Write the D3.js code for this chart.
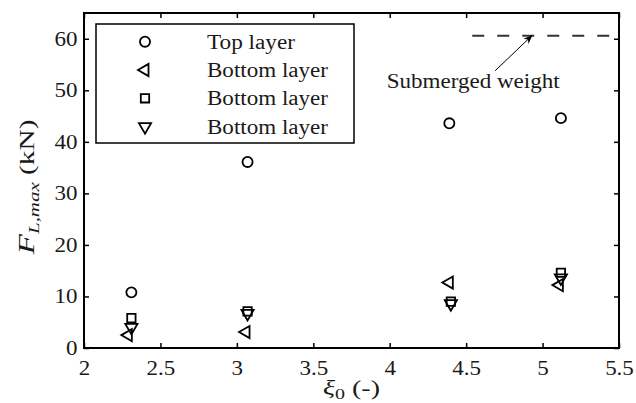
<!DOCTYPE html>
<html>
<head>
<meta charset="utf-8">
<script src="https://cdn.jsdelivr.net/npm/d3@7/dist/d3.min.js"></script>
<style>
  body { margin: 0; background: #fff; }
</style>
</head>
<body>
<div id="chart"></div>
<script>
// 数据：四组测点（横坐标 ξ0，纵坐标 F_L,max）
const xiTop = [2.31, 3.07, 4.39, 5.12];
const fTop = [10.8, 36.1, 43.6, 44.6];

const xiLeft = [2.29, 3.06, 4.39, 5.11];
const fLeft = [2.5, 3.1, 12.7, 12.2];

const xiSquare = [2.31, 3.07, 4.40, 5.12];
const fSquare = [5.8, 7.1, 9.0, 14.6];

const xiDown = [2.31, 3.07, 4.40, 5.12];
const fDown = [4.0, 6.7, 8.6, 13.6];

const seriesNames = ["Top layer", "Bottom layer", "Bottom layer", "Bottom layer"];

const xTicks = [2, 2.5, 3, 3.5, 4, 4.5, 5, 5.5];
const yTicks = [0, 10, 20, 30, 40, 50, 60];

// 水下重量参考线
const submergedWeight = 60.6;
const weightLineFrom = 4.54;
const annotationText = "Submerged weight";

(function(){
const W = 636, H = 403;
const margin = { top: 13, right: 17, bottom: 55, left: 84 };
const width = W - margin.left - margin.right;
const height = H - margin.top - margin.bottom;
const FONT = "'Liberation Serif'";
const INK = "#1a1a1a";
const SX = 1.15;   // 原图字体偏宽，横向拉伸

const svg = d3.select("#chart").append("svg")
    .attr("width", W)
    .attr("height", H)
    .attr("font-family", "Liberation Serif");

const g = svg.append("g")
    .attr("transform", `translate(${margin.left},${margin.top})`);

const x = d3.scaleLinear().domain([2, 5.5]).range([0, width]);
const y = d3.scaleLinear().domain([0, 65]).range([height, 0]);

// 坐标轴（刻度朝内）
const styleAxis = sel => {
    sel.attr("font-family", null).attr("font-size", null);
    sel.select(".domain").remove();
    sel.selectAll(".tick line").attr("stroke", "#000").attr("stroke-width", 1.5);
    sel.selectAll(".tick text")
        .attr("style", `font-family:${FONT};font-size:20px`)
        .attr("fill", INK);
};

const xAxisG = g.append("g")
    .attr("transform", `translate(0,${height})`)
    .call(d3.axisBottom(x).tickValues(xTicks).tickSize(-5).tickPadding(13).tickFormat(d3.format("")))
    .call(styleAxis);
xAxisG.selectAll(".tick text").attr("transform", `scale(${SX},1)`);

g.append("g")
    .call(d3.axisTop(x).tickValues(xTicks).tickSize(-5).tickFormat(""))
    .call(styleAxis);

const yAxisG = g.append("g")
    .call(d3.axisLeft(y).tickValues(yTicks).tickSize(-5).tickPadding(6))
    .call(styleAxis);
yAxisG.selectAll(".tick text")
    .attr("x", -6.5 / SX)
    .attr("transform", `scale(${SX},1)`);

g.append("g")
    .attr("transform", `translate(${width},0)`)
    .call(d3.axisRight(y).tickValues(yTicks).tickSize(-5).tickFormat(""))
    .call(styleAxis);

// 边框
g.append("rect")
    .attr("width", width)
    .attr("height", height)
    .attr("fill", "none")
    .attr("stroke", "#000")
    .attr("stroke-width", 2);

// 轴标题（按原图宽度拉伸）
const fit = (t, target) => {
    const len = t.node().getComputedTextLength();
    return target / len;
};

const xl = svg.append("text")
    .attr("text-anchor", "middle")
    .attr("fill", INK)
    .attr("style", `font-family:${FONT};font-size:21px`);
xl.append("tspan").style("font-style", "italic").text("ξ");
xl.append("tspan").attr("dy", 4).style("font-size", "15px").text("0");
xl.append("tspan").attr("dy", -4).text(" (-)");
xl.attr("transform", `translate(${margin.left + width / 2},395) scale(${fit(xl, 57)},1)`);

const yl = svg.append("text")
    .attr("text-anchor", "middle")
    .attr("fill", INK)
    .attr("style", `font-family:${FONT};font-size:21px`);
yl.append("tspan").style("font-style", "italic").style("font-size", "24px").text("F");
yl.append("tspan").attr("dy", 5).style("font-style", "italic").style("font-size", "15px").text("L,max");
yl.append("tspan").attr("dy", -5).text(" (kN)");
yl.attr("transform", `translate(34,187) rotate(-90) scale(${fit(yl, 135)},1)`);

// 符号
const sym = {
    circle: d3.symbol().type(d3.symbolCircle).size(80),
    left: d3.symbol().type(d3.symbolTriangle).size(64),
    square: d3.symbol().type(d3.symbolSquare).size(70),
    down: d3.symbol().type(d3.symbolTriangle).size(64)
};
const rot = { circle: 0, left: -90, square: 0, down: 180 };

const series = [
    { key: "circle", xs: xiTop, ys: fTop },
    { key: "left", xs: xiLeft, ys: fLeft },
    { key: "square", xs: xiSquare, ys: fSquare },
    { key: "down", xs: xiDown, ys: fDown }
];

series.forEach(s => {
    g.selectAll(".pt-" + s.key)
        .data(s.xs.map((v, i) => [v, s.ys[i]]))
        .enter()
        .append("path")
        .attr("class", "pt-" + s.key)
        .attr("d", sym[s.key]())
        .attr("transform", d => `translate(${x(d[0])},${y(d[1])}) rotate(${rot[s.key]})`)
        .attr("fill", "none")
        .attr("stroke", "#000")
        .attr("stroke-width", 1.8);
});

// 参考线与标注
g.append("line")
    .attr("x1", x(weightLineFrom))
    .attr("x2", width)
    .attr("y1", y(submergedWeight))
    .attr("y2", y(submergedWeight))
    .attr("stroke", "#333")
    .attr("stroke-width", 2)
    .attr("stroke-dasharray", "12,13");

svg.append("defs").append("marker")
    .attr("id", "arrow")
    .attr("viewBox", "0 0 10 10")
    .attr("refX", 9).attr("refY", 5)
    .attr("markerWidth", 9).attr("markerHeight", 9)
    .attr("orient", "auto")
    .append("path")
    .attr("d", "M0,1 L10,5 L0,9 L3,5 Z")
    .attr("fill", "#000");

g.append("line")
    .attr("x1", x(4.69))
    .attr("y1", y(53.8))
    .attr("x2", x(4.93))
    .attr("y2", y(submergedWeight))
    .attr("stroke", "#000")
    .attr("stroke-width", 1)
    .attr("marker-end", "url(#arrow)");

g.append("text")
    .attr("x", x(3.98))
    .attr("y", y(50.5))
    .attr("textLength", 173)
    .attr("lengthAdjust", "spacingAndGlyphs")
    .attr("fill", INK)
    .attr("style", `font-family:${FONT};font-size:20px`)
    .text(annotationText);

// 图例
const legend = g.append("g")
    .attr("transform", `translate(${96 - margin.left},${24 - margin.top})`);

legend.append("rect")
    .attr("width", 258)
    .attr("height", 119)
    .attr("fill", "#fff")
    .attr("stroke", "#000")
    .attr("stroke-width", 1.5);

series.forEach((s, i) => {
    const row = legend.append("g")
        .attr("transform", `translate(0,${17.7 + i * 28.3})`);
    row.append("path")
        .attr("d", sym[s.key]())
        .attr("transform", `translate(49,0) rotate(${rot[s.key]})`)
        .attr("fill", "none")
        .attr("stroke", "#000")
        .attr("stroke-width", 1.8);
    row.append("text")
        .attr("x", 111)
        .attr("y", 7)
        .attr("textLength", i === 0 ? 88 : 121)
        .attr("lengthAdjust", "spacingAndGlyphs")
        .attr("fill", INK)
        .attr("style", `font-family:${FONT};font-size:20px`)
        .text(seriesNames[i]);
});
})();
</script>
</body>
</html>
